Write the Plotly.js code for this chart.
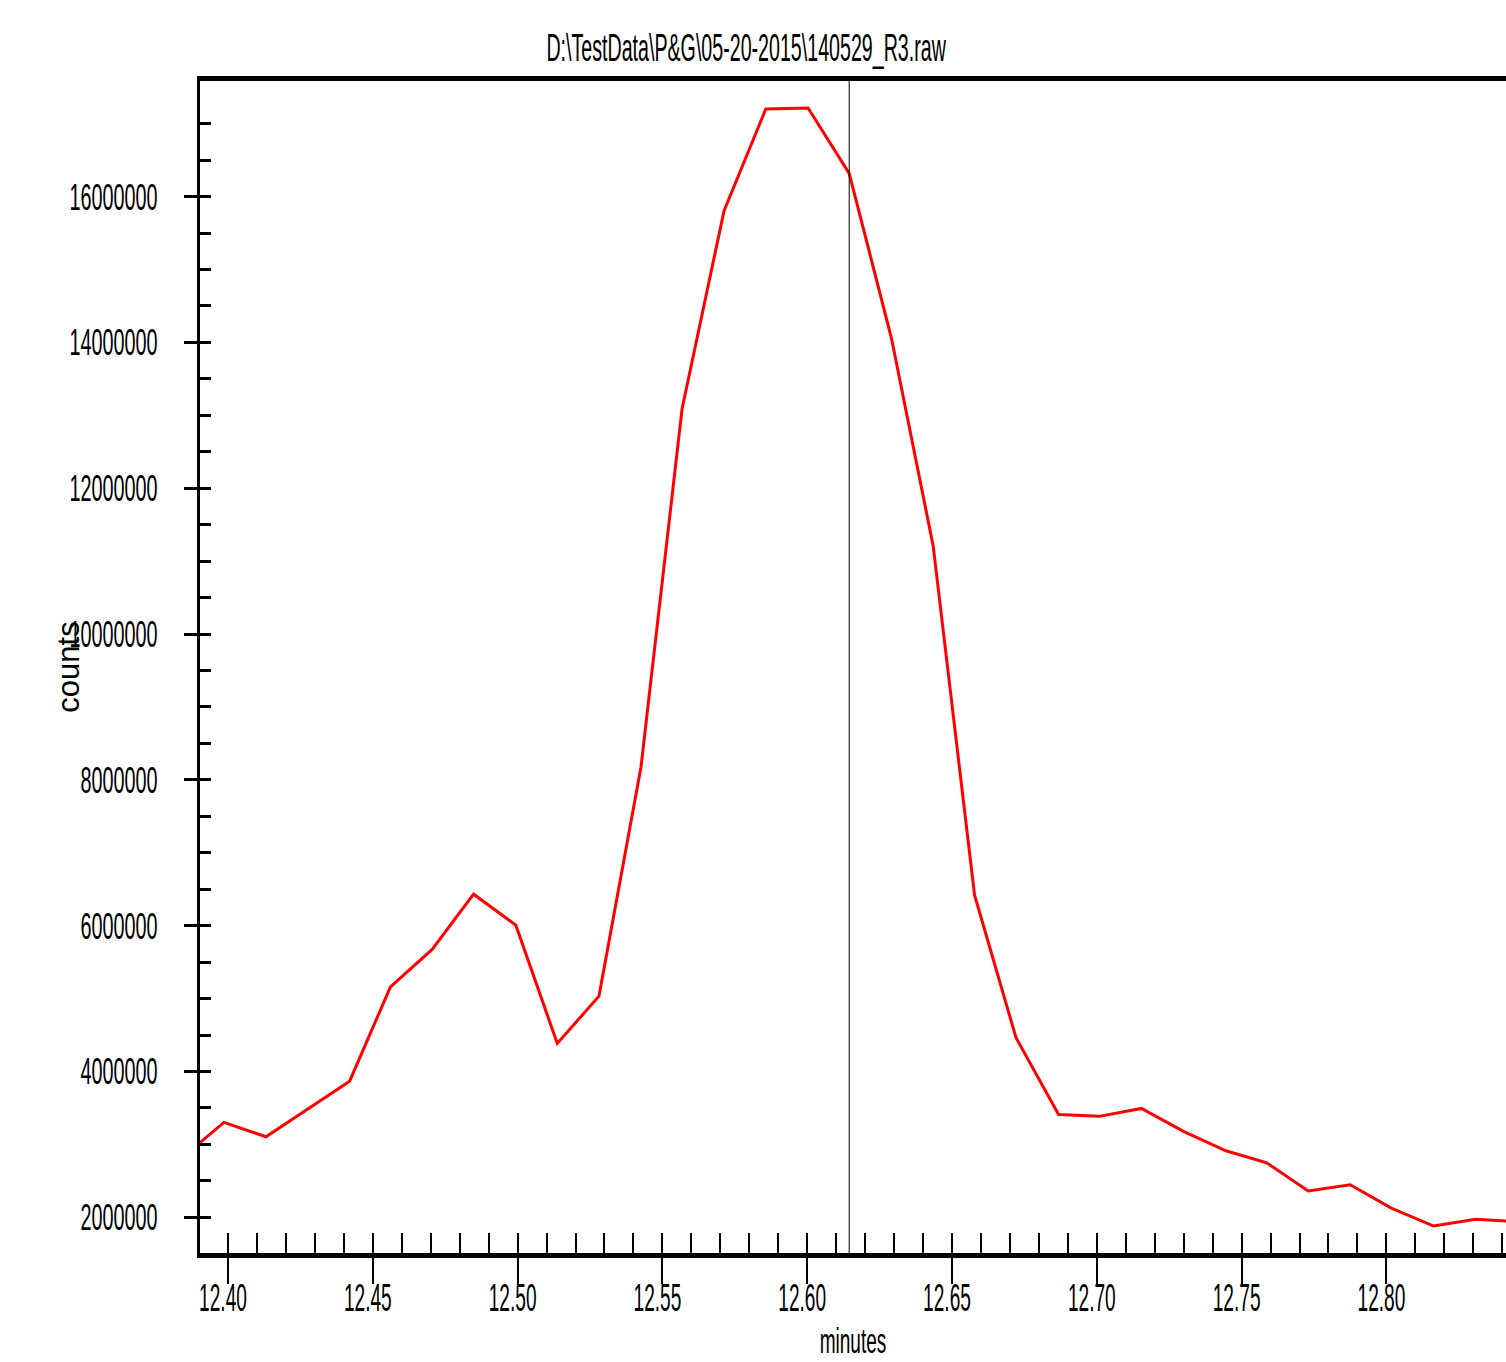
<!DOCTYPE html>
<html>
<head>
<meta charset="utf-8">
<script src="https://cdn.plot.ly/plotly-3.0.1.min.js"></script>
<style>
  html, body { margin: 0; padding: 0; background: #fff; }
  #plot { width: 1506px; height: 1362px; }
</style>
</head>
<body>
<div id="plot"></div>
<script>
// ---- data ----
const chartTitle = "D:\\TestData\\P&G\\05-20-2015\\140529_R3.raw";
const xTitle = "minutes";
const yTitle = "counts";

const timeMin = [12.3842, 12.3986, 12.4131, 12.4275, 12.4420, 12.4561, 12.4705, 12.4848,
  12.4994, 12.5137, 12.5281, 12.5426, 12.5568, 12.5713, 12.5857, 12.6003, 12.6145,
  12.6291, 12.6435, 12.6578, 12.6721, 12.6868, 12.7009, 12.7154, 12.7301, 12.7446,
  12.7587, 12.7730, 12.7875, 12.8017, 12.8163, 12.8308, 12.8452];

const counts = [2820000, 3302000, 3105000, 3485000, 3868000, 5161000, 5674000, 6432000,
  6007000, 4385000, 5034000, 8173000, 13090000, 15808000, 17202000, 17216000, 16319000,
  14057000, 11209000, 6418000, 4465000, 3411000, 3385000, 3494000, 3176000, 2913000,
  2748000, 2361000, 2447000, 2127000, 1881000, 1973000, 1941000];

const cursorTime = 12.6145;

const xRange = [12.39033, 12.84130];
const yRange = [1510800, 17585600];

// minor tick positions on the counts axis (every 500000, up to 17000000)
const yMinorTicks = [];
for (let v = 2000000; v <= 17000000; v += 500000) yMinorTicks.push(v);

const FONT = "Liberation Sans, Arial, Helvetica, sans-serif";

const traces = [
  {
    x: timeMin, y: counts, type: 'scatter', mode: 'lines',
    line: { color: '#ff0000', width: 3 },
    hoverinfo: 'skip', showlegend: false
  },
  { x: [], y: [], xaxis: 'x2', yaxis: 'y2', type: 'scatter', mode: 'lines',
    hoverinfo: 'skip', showlegend: false }
];

const layout = {
  width: 1506, height: 1362,
  margin: { l: 200, r: 0, t: 81, b: 109, pad: 0 },
  paper_bgcolor: '#ffffff', plot_bgcolor: '#ffffff',
  font: { family: FONT, color: '#000000', size: 38 },
  showlegend: false, hovermode: false,
  title: {
    text: chartTitle, font: { family: FONT, size: 38, color: '#000' },
    x: 746 / 1506, xref: 'container', xanchor: 'center',
    y: 1 - 48 / 1362, yref: 'container', yanchor: 'middle'
  },
  xaxis: {
    range: xRange, showgrid: false, zeroline: false,
    showline: true, linecolor: '#000', linewidth: 5, mirror: true,
    ticks: 'outside', ticklen: 26, tickwidth: 2, tickcolor: '#000',
    tick0: 12.40, dtick: 0.05, tickformat: '.2f',
    tickfont: { family: FONT, size: 39, color: '#000' },
    ticklabelshift: -5, ticklabelstandoff: -20,
    title: { text: xTitle, font: { family: FONT, size: 35, color: '#000' }, standoff: 12 }
  },
  yaxis: {
    range: yRange, showgrid: false, zeroline: false,
    showline: true, linecolor: '#000', linewidth: 3,
    ticks: 'outside', ticklen: 13, tickwidth: 3, tickcolor: '#000',
    tick0: 0, dtick: 2000000, tickformat: 'd',
    tickfont: { family: FONT, size: 37, color: '#000' },
    ticklabelstandoff: 19
  },
  xaxis2: {
    overlaying: 'x', anchor: 'y2', range: xRange,
    showgrid: false, zeroline: false, showline: false,
    ticks: 'inside', ticklen: 20, tickwidth: 2, tickcolor: '#000',
    tick0: 12.40, dtick: 0.01, showticklabels: false
  },
  yaxis2: {
    overlaying: 'y', anchor: 'x2', range: yRange, side: 'left',
    showgrid: false, zeroline: false, showline: false,
    ticks: 'inside', ticklen: 11, tickwidth: 3, tickcolor: '#000',
    tickmode: 'array', tickvals: yMinorTicks, showticklabels: false,
    title: { text: yTitle, font: { family: FONT, size: 31, color: '#000' }, standoff: 110 }
  },
  shapes: [
    { type: 'line', xref: 'x', yref: 'paper', x0: cursorTime, x1: cursorTime, y0: 0, y1: 1,
      line: { color: '#000', width: 1 } }
  ]
};

// condense text horizontally (the reference uses a very narrow face)
function condense(gd) {
  const spec = [
    ['.gtitle', 0.517],
    ['.xtick text', 0.49],
    ['.ytick text', 0.536],
    ['.xtitle', 0.544]
  ];
  spec.forEach(([sel, s]) => {
    gd.querySelectorAll(sel).forEach(t => {
      const bb = t.getBBox();
      const anchor = t.getAttribute('text-anchor') || 'start';
      const cx = anchor === 'end' ? bb.x + bb.width : (anchor === 'middle' ? bb.x + bb.width / 2 : bb.x);
      const prev = t.getAttribute('transform') || '';
      t.setAttribute('transform', prev + ' translate(' + cx + ',0) scale(' + s + ',1) translate(' + (-cx) + ',0)');
    });
  });
}

Plotly.newPlot('plot', traces, layout, { staticPlot: true, displayModeBar: false, responsive: false })
  .then(gd => condense(gd));
</script>
</body>
</html>
